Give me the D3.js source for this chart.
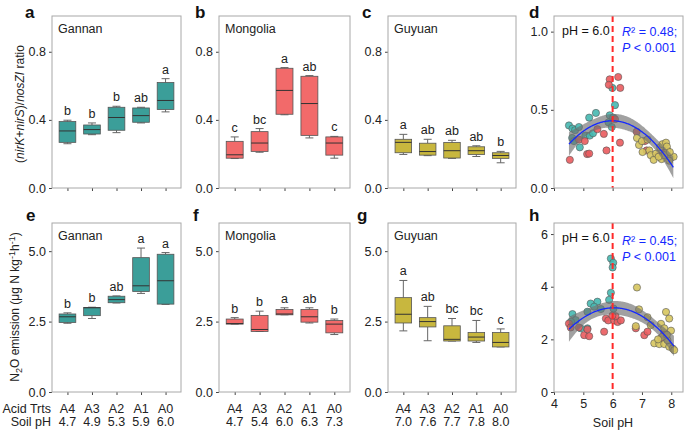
<!DOCTYPE html>
<html>
<head>
<meta charset="utf-8">
<script src="https://cdn.jsdelivr.net/npm/d3@7"></script>
<style>
  body { margin: 0; background: #fff; }
  svg { font-family: "Liberation Sans", Arial, sans-serif; }
</style>
</head>
<body>
<svg id="chart" width="685" height="431"></svg>
<script>
// ---- data ----
const acidTrts = ["A4", "A3", "A2", "A1", "A0"];
const phGannan = ["4.7", "4.9", "5.3", "5.9", "6.0"];
const phMongolia = ["4.7", "5.4", "6.0", "6.3", "7.3"];
const phGuyuan = ["7.0", "7.6", "7.7", "7.8", "8.0"];

// box stats per treatment: [whisker low, q1, median, q3, whisker high]
const ratioGannan = [[0.26, 0.268, 0.335, 0.39, 0.398], [0.313, 0.317, 0.343, 0.37, 0.382], [0.325, 0.339, 0.414, 0.474, 0.48], [0.382, 0.386, 0.425, 0.47, 0.474], [0.447, 0.461, 0.514, 0.619, 0.642]];
const ratioMongolia = [[0.173, 0.175, 0.195, 0.274, 0.30], [0.21, 0.215, 0.264, 0.331, 0.349], [0.43, 0.433, 0.573, 0.703, 0.707], [0.294, 0.309, 0.496, 0.656, 0.66], [0.175, 0.193, 0.264, 0.30, 0.303]];
const ratioGuyuan = [[0.197, 0.207, 0.268, 0.286, 0.315], [0.19, 0.193, 0.214, 0.263, 0.286], [0.174, 0.176, 0.219, 0.267, 0.28], [0.185, 0.197, 0.219, 0.242, 0.248], [0.148, 0.174, 0.191, 0.207, 0.215]];
const n2oGannan = [[2.44, 2.47, 2.67, 2.77, 2.81], [2.61, 2.71, 2.99, 3.0, 3.01], [3.16, 3.17, 3.28, 3.4, 3.41], [3.5, 3.57, 3.77, 4.77, 5.11], [3.11, 3.12, 3.95, 4.89, 4.95]];
const n2oMongolia = [[2.41, 2.41, 2.43, 2.59, 2.64], [2.15, 2.15, 2.22, 2.72, 2.87], [2.74, 2.74, 2.77, 2.93, 2.99], [2.45, 2.48, 2.67, 2.93, 2.99], [2.04, 2.10, 2.41, 2.54, 2.59]];
const n2oGuyuan = [[2.17, 2.45, 2.76, 3.35, 3.96], [1.82, 2.31, 2.50, 2.64, 3.04], [1.81, 1.81, 1.87, 2.35, 2.61], [1.76, 1.81, 1.95, 2.11, 2.54], [1.60, 1.60, 1.76, 2.11, 2.24]];

const lettersA = ["b", "b", "b", "ab", "a"];
const lettersB = ["c", "bc", "a", "ab", "c"];
const lettersC = ["a", "ab", "ab", "ab", "b"];
const lettersE = ["b", "b", "ab", "a", "a"];
const lettersF = ["b", "b", "a", "ab", "b"];
const lettersG = ["a", "ab", "bc", "bc", "c"];

// scatter points [soil pH, value]
const ratioPtsGannan = [[4.51, 0.40], [4.63, 0.38], [4.72, 0.37], [4.85, 0.39], [4.62, 0.32], [4.68, 0.30], [4.88, 0.26], [5.2, 0.45], [5.43, 0.48], [5.07, 0.335], [5.22, 0.335], [5.33, 0.35], [5.86, 0.42], [5.9, 0.465], [5.97, 0.39], [6.08, 0.53], [5.99, 0.64], [6.02, 0.45]];
const ratioPtsMongolia = [[4.54, 0.18], [4.85, 0.31], [5.05, 0.30], [5.13, 0.217], [5.2, 0.22], [5.48, 0.376], [5.7, 0.346], [5.79, 0.24], [5.9, 0.695], [5.87, 0.66], [6.19, 0.71], [6.26, 0.64], [6.08, 0.44], [6.25, 0.29], [6.82, 0.36], [7.1, 0.30], [7.16, 0.24], [7.55, 0.21], [7.8, 0.23]];
const ratioPtsGuyuan = [[6.83, 0.32], [6.90, 0.275], [7.00, 0.30], [7.19, 0.31], [7.25, 0.24], [7.02, 0.23], [7.30, 0.21], [7.40, 0.18], [7.48, 0.22], [7.62, 0.26], [7.70, 0.28], [7.82, 0.29], [7.87, 0.24], [7.99, 0.195], [8.08, 0.20], [7.67, 0.185], [7.93, 0.175], [7.76, 0.21], [7.57, 0.20], [7.85, 0.265], [7.95, 0.23]];
const n2oPtsGannan = [[5.94, 5.07], [6.02, 4.91], [6.0, 4.73], [5.94, 3.77], [5.88, 3.5], [5.48, 3.43], [5.25, 3.36], [5.37, 3.24], [5.14, 3.05], [4.63, 2.96], [4.74, 2.73], [4.58, 2.67], [5.14, 2.42], [4.91, 2.42], [6.03, 3.17], [5.6, 3.15]];
const n2oPtsMongolia = [[4.51, 2.6], [4.57, 2.45], [4.85, 2.45], [5.03, 2.16], [5.2, 2.12], [5.14, 2.38], [5.71, 2.29], [5.77, 2.79], [5.85, 2.72], [6.05, 2.72], [6.17, 2.66], [6.28, 2.72], [6.1, 2.88], [5.99, 2.9], [6.79, 2.42], [7.08, 2.16], [7.19, 2.29], [7.65, 2.04], [7.76, 2.24]];
const n2oPtsGuyuan = [[6.83, 3.97], [6.9, 3.14], [7.19, 2.84], [6.79, 2.5], [7.3, 2.54], [7.82, 3.04], [7.93, 2.79], [7.65, 2.59], [7.76, 2.42], [7.99, 2.33], [7.42, 1.85], [7.59, 1.82], [7.76, 1.82], [7.93, 1.72], [8.05, 1.65], [8.1, 1.59], [7.87, 1.97], [7.7, 2.1], [7.85, 2.17], [7.55, 2.0]];

const boxColors = { gannan: "#3b9e99", mongolia: "#f26a6a", guyuan: "#c8b73e" };
const dotColors = { gannan: "#45b8b0", mongolia: "#ea5b5e", guyuan: "#d6c55e" };

const svg = d3.select("#chart");
const frameColor = "#a8a8a8";
const row1 = [16, 188], row2 = [223, 392];

function styleAxis(g) {
  g.select(".domain").remove();
  g.selectAll(".tick line").attr("stroke", "#444");
  g.selectAll(".tick text").attr("fill", "#222").style("font-size", "12.5px")
    .style("font-family", "'Liberation Sans', Arial, sans-serif");
}

function frame(x0, x1, yr) {
  svg.append("rect").attr("x", x0).attr("y", yr[0]).attr("width", x1 - x0).attr("height", yr[1] - yr[0])
    .attr("fill", "none").attr("stroke", frameColor).attr("stroke-width", 1);
}

function panelLetter(t, pos) {
  svg.append("text").attr("x", pos[0]).attr("y", pos[1]).text(t)
    .style("font-size", "17px").style("font-weight", "bold").attr("fill", "#111");
}

function boxPanel(opt) {
  const { x0, x1, yr, ymax, ticks, fmt, stats, letters, color, site, letter, lpos } = opt;
  const x = d3.scalePoint().domain(acidTrts).range([x0, x1]).padding(0.63);
  const y = d3.scaleLinear().domain([0, ymax]).range([yr[1], yr[0]]);
  const bw = x.step() * 0.68, cap = 8;

  svg.append("g").attr("transform", `translate(${x0},0)`)
    .call(d3.axisLeft(y).tickValues(ticks).tickSize(3).tickPadding(3).tickFormat(d3.format(fmt)))
    .call(styleAxis);
  svg.append("g").attr("transform", `translate(0,${yr[1]})`)
    .call(d3.axisBottom(x).tickSize(3).tickFormat(""))
    .call(styleAxis);

  const g = svg.append("g");
  stats.forEach((s, i) => {
    const cx = x(acidTrts[i]);
    // whiskers
    g.append("line").attr("x1", cx).attr("x2", cx).attr("y1", y(s[0])).attr("y2", y(s[1])).attr("stroke", "#666");
    g.append("line").attr("x1", cx).attr("x2", cx).attr("y1", y(s[3])).attr("y2", y(s[4])).attr("stroke", "#666");
    g.append("line").attr("x1", cx - cap / 2).attr("x2", cx + cap / 2).attr("y1", y(s[0])).attr("y2", y(s[0])).attr("stroke", "#666");
    g.append("line").attr("x1", cx - cap / 2).attr("x2", cx + cap / 2).attr("y1", y(s[4])).attr("y2", y(s[4])).attr("stroke", "#666");
    g.append("rect").attr("x", cx - bw / 2).attr("width", bw).attr("y", y(s[3])).attr("height", y(s[1]) - y(s[3]))
      .attr("fill", color).attr("stroke", "#555").attr("stroke-width", 0.8);
    g.append("line").attr("x1", cx - bw / 2).attr("x2", cx + bw / 2).attr("y1", y(s[2])).attr("y2", y(s[2]))
      .attr("stroke", "#333").attr("stroke-width", 1);
    g.append("text").attr("x", cx).attr("y", y(s[4]) - 5).attr("text-anchor", "middle")
      .style("font-size", "12.5px").attr("fill", "#222").text(letters[i]);
  });
  frame(x0, x1, yr);
  svg.append("text").attr("x", x0 + 6).attr("y", yr[0] + 17).text(site).style("font-size", "12.5px").attr("fill", "#222");
  panelLetter(letter, lpos);
  return x;
}

function bottomLabels(x, ph) {
  acidTrts.forEach((a, i) => {
    svg.append("text").attr("x", x(a)).attr("y", 413).attr("text-anchor", "middle").style("font-size", "12.5px").attr("fill", "#222").text(a);
    svg.append("text").attr("x", x(a)).attr("y", 426).attr("text-anchor", "middle").style("font-size", "12.5px").attr("fill", "#222").text(ph[i]);
  });
}

// quadratic least squares with 95% CI of the mean
function quadFit(pts) {
  const X = pts.map(p => [1, p[0], p[0] * p[0]]);
  const A = [[0, 0, 0], [0, 0, 0], [0, 0, 0]], b = [0, 0, 0];
  X.forEach((r, k) => {
    for (let i = 0; i < 3; i++) {
      b[i] += r[i] * pts[k][1];
      for (let j = 0; j < 3; j++) A[i][j] += r[i] * r[j];
    }
  });
  const [a, bb, c] = A[0], [d, e, f] = A[1], [gg, h, ii] = A[2];
  const det = a * (e * ii - f * h) - bb * (d * ii - f * gg) + c * (d * h - e * gg);
  const inv = [
    [(e * ii - f * h) / det, (c * h - bb * ii) / det, (bb * f - c * e) / det],
    [(f * gg - d * ii) / det, (a * ii - c * gg) / det, (c * d - a * f) / det],
    [(d * h - e * gg) / det, (bb * gg - a * h) / det, (a * e - bb * d) / det]
  ];
  const beta = inv.map(r => r[0] * b[0] + r[1] * b[1] + r[2] * b[2]);
  const pred = xv => beta[0] + beta[1] * xv + beta[2] * xv * xv;
  const sse = d3.sum(pts, p => (p[1] - pred(p[0])) ** 2);
  const s2 = sse / (pts.length - 3);
  const se = xv => {
    const v = [1, xv, xv * xv];
    let q = 0;
    for (let i = 0; i < 3; i++) for (let j = 0; j < 3; j++) q += v[i] * inv[i][j] * v[j];
    return Math.sqrt(s2 * q);
  };
  return { pred, se };
}

function scatterPanel(opt) {
  const { x0, x1, yr, ymax, ticks, fmt, sets, letter, lpos, r2, ptxt, showX, statY } = opt;
  const x = d3.scaleLinear().domain([4, 8.4]).range([x0, x1]);
  const y = d3.scaleLinear().domain([0, ymax]).range([yr[1], yr[0]]);

  svg.append("g").attr("transform", `translate(${x0},0)`)
    .call(d3.axisLeft(y).tickValues(ticks).tickSize(3).tickPadding(3).tickFormat(d3.format(fmt)))
    .call(styleAxis);
  svg.append("g").attr("transform", `translate(0,${yr[1]})`)
    .call(d3.axisBottom(x).tickValues([4, 5, 6, 7, 8]).tickSize(3).tickPadding(4).tickFormat(showX ? d3.format("d") : ""))
    .call(styleAxis);

  const all = [];
  sets.forEach(s => {
    s.pts.forEach(p => all.push(p));
    svg.append("g").selectAll("circle").data(s.pts).join("circle")
      .attr("cx", d => x(d[0])).attr("cy", d => y(d[1])).attr("r", 3.6)
      .attr("fill", s.color).attr("fill-opacity", 0.9).attr("stroke", "#555").attr("stroke-width", 0.6);
  });

  const fit = quadFit(all);
  const xs = d3.range(d3.min(all, p => p[0]), d3.max(all, p => p[0]) + 0.001, 0.02);
  svg.append("path").datum(xs)
    .attr("d", d3.area().x(v => x(v)).y0(v => y(fit.pred(v) - 2.0 * fit.se(v))).y1(v => y(fit.pred(v) + 2.0 * fit.se(v))))
    .attr("fill", "#6f6f6f").attr("fill-opacity", 0.65);
  svg.append("path").datum(xs)
    .attr("d", d3.line().x(v => x(v)).y(v => y(fit.pred(v))))
    .attr("fill", "none").attr("stroke", "#1428ff").attr("stroke-width", 1.3);

  svg.append("line").attr("x1", x(6)).attr("x2", x(6)).attr("y1", yr[0]).attr("y2", yr[1])
    .attr("stroke", "#ff2a2a").attr("stroke-width", 2).attr("stroke-dasharray", "6,4");

  frame(x0, x1, yr);
  svg.append("text").attr("x", x0 + 8).attr("y", yr[0] + 19).text("pH = 6.0").style("font-size", "12.5px").attr("fill", "#111");
  const t1 = svg.append("text").attr("x", 622).attr("y", yr[0] + statY).style("font-size", "12.5px").attr("fill", "#1428ff");
  t1.append("tspan").style("font-style", "italic").text("R");
  t1.append("tspan").text("² = " + r2 + ";");
  const t2 = svg.append("text").attr("x", 622).attr("y", yr[0] + statY + 16).style("font-size", "12.5px").attr("fill", "#1428ff");
  t2.append("tspan").style("font-style", "italic").text("P");
  t2.append("tspan").text(" " + ptxt);
  panelLetter(letter, lpos);
  return x;
}

// ---- row 1 ----
boxPanel({ x0: 52, x1: 181, yr: row1, ymax: 1.01, ticks: [0, 0.4, 0.8], fmt: ".1f", stats: ratioGannan, letters: lettersA, color: boxColors.gannan, site: "Gannan", letter: "a", lpos: [25, 18] });
boxPanel({ x0: 219, x1: 350, yr: row1, ymax: 1.01, ticks: [0, 0.4, 0.8], fmt: ".1f", stats: ratioMongolia, letters: lettersB, color: boxColors.mongolia, site: "Mongolia", letter: "b", lpos: [195, 18] });
boxPanel({ x0: 388, x1: 516, yr: row1, ymax: 1.01, ticks: [0, 0.4, 0.8], fmt: ".1f", stats: ratioGuyuan, letters: lettersC, color: boxColors.guyuan, site: "Guyuan", letter: "c", lpos: [362, 18] });
scatterPanel({ x0: 554, x1: 683, yr: row1, ymax: 1.1, ticks: [0, 0.5, 1.0], fmt: ".1f", letter: "d", lpos: [529, 18], r2: "0.48", ptxt: "< 0.001", showX: false, statY: 20,
  sets: [{ pts: ratioPtsGannan, color: dotColors.gannan }, { pts: ratioPtsMongolia, color: dotColors.mongolia }, { pts: ratioPtsGuyuan, color: dotColors.guyuan }] });

// ---- row 2 ----
const xe = boxPanel({ x0: 52, x1: 181, yr: row2, ymax: 6, ticks: [0, 2.5, 5], fmt: ".1f", stats: n2oGannan, letters: lettersE, color: boxColors.gannan, site: "Gannan", letter: "e", lpos: [26, 221] });
const xf = boxPanel({ x0: 219, x1: 350, yr: row2, ymax: 6, ticks: [0, 2.5, 5], fmt: ".1f", stats: n2oMongolia, letters: lettersF, color: boxColors.mongolia, site: "Mongolia", letter: "f", lpos: [193, 221] });
const xg = boxPanel({ x0: 388, x1: 516, yr: row2, ymax: 6, ticks: [0, 2.5, 5], fmt: ".1f", stats: n2oGuyuan, letters: lettersG, color: boxColors.guyuan, site: "Guyuan", letter: "g", lpos: [357, 221] });
scatterPanel({ x0: 554, x1: 683, yr: row2, ymax: 6.42, ticks: [0, 2, 4, 6], fmt: "d", letter: "h", lpos: [529, 221], r2: "0.45", ptxt: "< 0.001", showX: true, statY: 22,
  sets: [{ pts: n2oPtsGannan, color: dotColors.gannan }, { pts: n2oPtsMongolia, color: dotColors.mongolia }, { pts: n2oPtsGuyuan, color: dotColors.guyuan }] });

bottomLabels(xe, phGannan);
bottomLabels(xf, phMongolia);
bottomLabels(xg, phGuyuan);
svg.append("text").attr("x", 51).attr("y", 413).attr("text-anchor", "end").style("font-size", "12.5px").attr("fill", "#222").text("Acid Trts");
svg.append("text").attr("x", 51).attr("y", 426).attr("text-anchor", "end").style("font-size", "12.5px").attr("fill", "#222").text("Soil pH");
svg.append("text").attr("x", 613).attr("y", 427).attr("text-anchor", "middle").style("font-size", "12.5px").attr("fill", "#222").text("Soil pH");

// ---- y-axis titles ----
const ya = svg.append("text").attr("transform", "translate(24,104) rotate(-90)").attr("text-anchor", "middle")
  .style("font-size", "12px").attr("fill", "#222");
[["(", false], ["nirK", true], ["+", false], ["nirS", true], [")/", false], ["nosZI", true], [" ratio", false]]
  .forEach(([t, it]) => ya.append("tspan").style("font-style", it ? "italic" : "normal").text(t));

const ye = svg.append("text").attr("transform", "translate(19,307) rotate(-90)").attr("text-anchor", "middle")
  .style("font-size", "12px").attr("fill", "#222");
ye.append("tspan").text("N");
ye.append("tspan").attr("dy", 3).style("font-size", "9px").text("2");
ye.append("tspan").attr("dy", -3).text("O emission (μg N kg");
ye.append("tspan").attr("dy", -4).style("font-size", "9px").text("-1");
ye.append("tspan").attr("dy", 4).text("h");
ye.append("tspan").attr("dy", -4).style("font-size", "9px").text("-1");
ye.append("tspan").attr("dy", 4).text(")");
</script>
</body>
</html>
